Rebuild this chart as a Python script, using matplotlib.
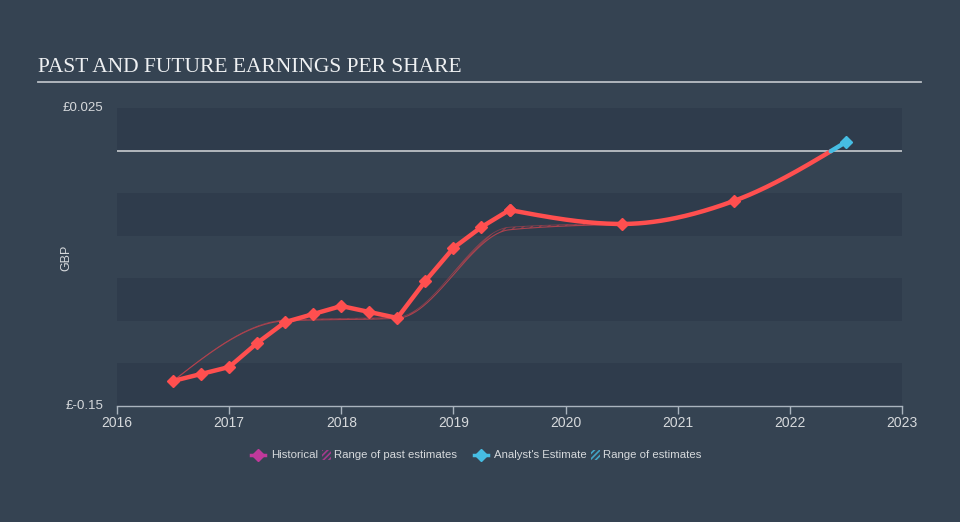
import numpy as np
import matplotlib
matplotlib.use("Agg")
import matplotlib.pyplot as plt
from matplotlib.lines import Line2D
from matplotlib.patches import Rectangle

plt.rcParams["hatch.linewidth"] = 1.2

# ---- data ----
hist_x = [2016.5, 2016.75, 2017.0, 2017.25, 2017.5, 2017.75, 2018.0, 2018.25,
          2018.5, 2018.75, 2019.0, 2019.25, 2019.5]
hist_y = [-0.1353, -0.1312, -0.1271, -0.1130, -0.1007, -0.0960, -0.0913, -0.0948,
          -0.0983, -0.0766, -0.0572, -0.0449, -0.0349]
fc_x = [2019.5, 2020.5, 2021.5, 2022.5]
fc_y = [-0.0349, -0.0431, -0.0296, 0.0050]

past_x = [2016.5, 2017.5, 2018.5, 2019.5, 2020.5]
past_lo = [-0.1353, -0.1000, -0.0985, -0.0465, -0.0433]
past_hi = [-0.1353, -0.0995, -0.0978, -0.0450, -0.0428]

x_ticks = [2016, 2017, 2018, 2019, 2020, 2021, 2022, 2023]
y_min, y_max = -0.15, 0.025
y_tick_labels = {0.025: "£0.025", -0.15: "£-0.15"}

# ---- style ----
BG = "#354352"
BAND = "#2f3c4c"
RED = "#ff4f4f"
BLUE = "#46bde3"
MAG = "#c0399b"
TXT = "#d6d9dc"
PAST = "#b8424e"
SANS = ["Liberation Sans", "DejaVu Sans"]


def monotone(xs, ys, n=60):
    xs = np.asarray(xs, float); ys = np.asarray(ys, float)
    k = len(xs)
    h = np.diff(xs); s = np.diff(ys) / h
    t = np.zeros(k)
    for i in range(1, k - 1):
        p = (s[i - 1] * h[i] + s[i] * h[i - 1]) / (h[i - 1] + h[i])
        t[i] = (np.sign(s[i - 1]) + np.sign(s[i])) * min(abs(s[i - 1]), abs(s[i]), 0.5 * abs(p))
    t[0] = (3 * s[0] - t[1]) / 2
    t[-1] = (3 * s[-1] - t[-2]) / 2
    X, Y = [], []
    for i in range(k - 1):
        u = np.linspace(0, 1, n, endpoint=(i == k - 2))
        h00 = 2 * u**3 - 3 * u**2 + 1
        h10 = u**3 - 2 * u**2 + u
        h01 = -2 * u**3 + 3 * u**2
        h11 = u**3 - u**2
        X.append(xs[i] + u * h[i])
        Y.append(h00 * ys[i] + h10 * h[i] * t[i] + h01 * ys[i + 1] + h11 * h[i] * t[i + 1])
    return np.concatenate(X), np.concatenate(Y)


fig = plt.figure(figsize=(9.6, 5.22), dpi=100, facecolor=BG)
ax = fig.add_axes([117 / 960, 116 / 522, 785 / 960, 298 / 522])
ax.set_facecolor(BG)
ax.set_xlim(2016, 2023)
ax.set_ylim(y_min, y_max)

# bands
edges = np.arange(y_max, y_min - 1e-9, -0.025)
for i in range(len(edges) - 1):
    if i % 2 == 0:
        ax.axhspan(edges[i + 1], edges[i], color=BAND, lw=0, zorder=0)

ax.axhline(0, color="#c8ccd0", lw=1.2, zorder=1)

# past estimate range
px, plo = monotone(past_x, past_lo)
_, phi = monotone(past_x, past_hi)
ax.fill_between(px, plo, phi, facecolor="none", edgecolor=PAST, hatch="////", lw=0, alpha=0.6, zorder=2)
ax.plot(px, plo, color=PAST, lw=0.8, alpha=0.9, zorder=2)
ax.plot(px, phi, color=PAST, lw=0.6, alpha=0.6, zorder=2)

# historical line (linear) and forecast (smooth), red below zero, blue above
ax.plot(hist_x, hist_y, color=RED, lw=3.2, solid_joinstyle="round", solid_capstyle="round", zorder=3)
cx, cy = monotone(fc_x, fc_y)
neg = np.where(cy <= 0, cy, np.nan)
pos = np.where(cy >= 0, cy, np.nan)
idx = np.where((cy[:-1] <= 0) & (cy[1:] > 0))[0]
for j in idx:
    pos[j] = cy[j]
ax.plot(cx, neg, color=RED, lw=3.2, solid_capstyle="round", zorder=3)
ax.plot(cx, pos, color=BLUE, lw=3.2, solid_capstyle="round", zorder=3)
ax.plot(hist_x, hist_y, "D", color=RED, ms=6.5, mec=RED, zorder=4)
fx = np.array(fc_x); fy = np.array(fc_y)
ax.plot(fx[fy < 0], fy[fy < 0], "D", color=RED, ms=6.5, mec=RED, zorder=4)
ax.plot(fx[fy >= 0], fy[fy >= 0], "D", color=BLUE, ms=6.5, mec=BLUE, zorder=4)

# axes styling
for sp in ["top", "right", "left"]:
    ax.spines[sp].set_visible(False)
ax.spines["bottom"].set_color("#aab4be")
ax.spines["bottom"].set_linewidth(1.0)
ax.set_xticks(x_ticks)
ax.set_xticklabels([str(v) for v in x_ticks], family=SANS, fontsize=10, color=TXT)
ax.tick_params(axis="x", colors="#aab4be", length=6, width=1, pad=1.5, labelcolor=TXT)
ax.set_yticks([])
for v, lab in y_tick_labels.items():
    ax.text(-0.017, v, lab, transform=ax.get_yaxis_transform(), ha="right", va="center",
            fontsize=9.5, color=TXT, family=SANS)
fig.text(66 / 960, 1 - 258 / 522, "GBP", rotation=90, ha="center", va="center",
         fontsize=9, color=TXT, family=SANS)

# title
fig.text(38 / 960, 1 - 68 / 522, "PAST AND FUTURE EARNINGS PER SHARE", ha="left", va="center",
         fontsize=15.5, color="#eef0f2", family=["Liberation Serif", "DejaVu Serif"])
fig.add_artist(Line2D([38 / 960, 921 / 960], [1 - 81.5 / 522] * 2, color="#b9bfc5", lw=1.3,
                      transform=fig.transFigure))

# legend
ly = 1 - 455 / 522
lf = dict(fontsize=8.2, color=TXT, va="center", ha="left", family=SANS)
def diamond(x, color):
    fig.add_artist(Line2D([(x - 7) / 960, (x + 7) / 960], [ly, ly], color=color, lw=2.5,
                          transform=fig.transFigure))
    fig.add_artist(Line2D([x / 960], [ly], marker="D", ms=6, color=color, mec=color,
                          transform=fig.transFigure))
def hatch(x, color):
    fig.add_artist(Rectangle((x / 960, ly - 5 / 522), 9 / 960, 10 / 522, transform=fig.transFigure,
                             facecolor="none", edgecolor=color, hatch="//////", lw=0, alpha=0.8))
diamond(258, MAG)
fig.text(271 / 960, ly, "Historical", **lf)
hatch(322, MAG)
fig.text(334 / 960, ly, "Range of past estimates", **lf)
diamond(481, BLUE)
fig.text(494 / 960, ly, "Analyst's Estimate", **lf)
hatch(591, BLUE)
fig.text(603 / 960, ly, "Range of estimates", **lf)

fig.savefig("out.png", dpi=100, facecolor=BG)
